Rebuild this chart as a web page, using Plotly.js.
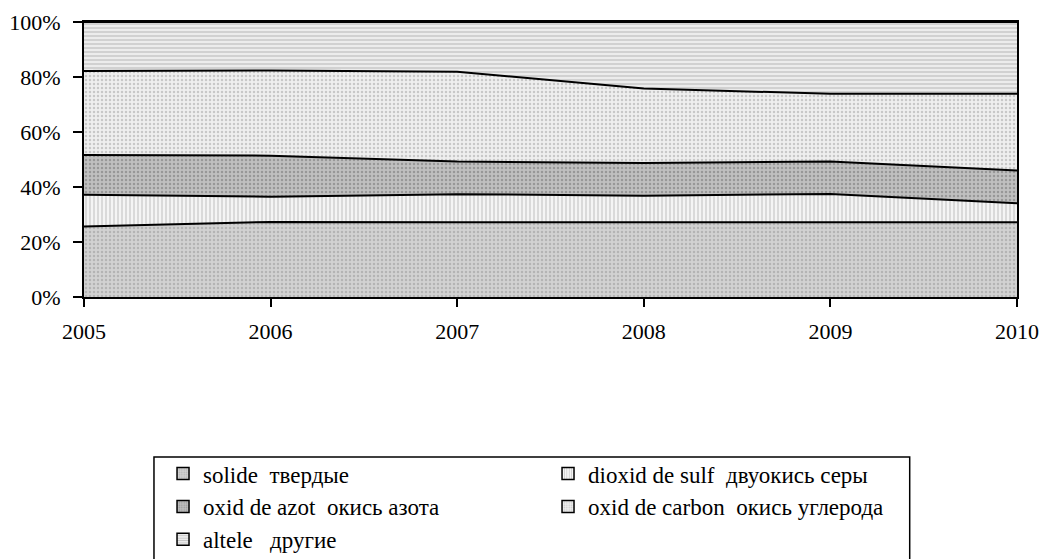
<!DOCTYPE html>
<html>
<head>
<meta charset="utf-8">
<script src="https://cdn.plot.ly/plotly-3.0.1.min.js"></script>
<style>html,body{margin:0;padding:0;background:#fff;}#chart{width:1042px;height:559px;}</style>
</head>
<body>
<div id="chart"></div>
<script>
const years = [2005, 2006, 2007, 2008, 2009, 2010];
const solide = [25.6, 27.3, 27.2, 27.2, 27.2, 27.2];
const dioxidSulf = [11.6, 9.2, 10.2, 9.6, 10.3, 6.9];
const oxidAzot = [14.4, 14.9, 11.9, 11.9, 11.8, 11.9];
const oxidCarbon = [30.6, 31.0, 32.6, 27.1, 24.6, 27.9];
const altele = [17.8, 17.6, 18.1, 24.2, 26.1, 26.1];
const names = ["solide  твердые", "dioxid de sulf  двуокись серы", "oxid de azot  окись азота", "oxid de carbon  окись углерода", "altele   другие"];
const yTicks = [0, 20, 40, 60, 80, 100];

const series = [solide, dioxidSulf, oxidAzot, oxidCarbon, altele];
const fills = [
  {bg: "#d2d2d2", fg: "#b4b4b4", shape: "."},
  {bg: "#f4f4f4", fg: "#c8c8c8", shape: "|"},
  {bg: "#c0c0c0", fg: "#989898", shape: "."},
  {bg: "#efefef", fg: "#c8c8c8", shape: "."},
  {bg: "#ececec", fg: "#c0c0c0", shape: "-"}
];
const FONT = "Liberation Serif";

const areaTraces = series.map((vals, i) => ({
  x: years,
  y: vals,
  name: names[i],
  type: "scatter",
  mode: "lines",
  stackgroup: "one",
  groupnorm: i === 0 ? "percent" : undefined,
  line: {color: "#000", width: 2, shape: "linear"},
  fillcolor: fills[i].bg,
  fillpattern: {shape: fills[i].shape, bgcolor: fills[i].bg, fgcolor: fills[i].fg, size: 4, solidity: 0.3},
  showlegend: false,
  hoverinfo: "x+y+name"
}));

// legend keys only (square swatches like the original); null size -> no bar drawn
const legendTraces = series.map((vals, i) => ({
  x: [years[0]],
  y: [null],
  name: names[i],
  type: "bar",
  marker: {
    color: fills[i].bg,
    pattern: {shape: fills[i].shape, bgcolor: fills[i].bg, fgcolor: fills[i].fg, size: 3, solidity: 0.3},
    line: {color: "#000", width: 1.5}
  },
  showlegend: true,
  hoverinfo: "skip"
}));

const layout = {
  width: 1042,
  height: 559,
  paper_bgcolor: "#fff",
  plot_bgcolor: "#fff",
  margin: {l: 84, r: 25, t: 22, b: 262, pad: 0, autoexpand: false},
  font: {family: FONT, color: "#000", size: 22},
  showlegend: true,
  xaxis: {
    range: [2005, 2010],
    tickvals: years,
    ticktext: years.map(String),
    showgrid: false,
    zeroline: false,
    showline: true,
    linecolor: "#000",
    linewidth: 2,
    mirror: true,
    ticks: "outside",
    ticklen: 8,
    tickwidth: 2,
    tickcolor: "#000",
    ticklabelstandoff: 6,
    tickfont: {family: FONT, size: 22}
  },
  yaxis: {
    range: [0, 100],
    tickvals: yTicks,
    ticktext: yTicks.map(v => v + "%"),
    showgrid: false,
    zeroline: false,
    showline: true,
    linecolor: "#000",
    linewidth: 2,
    mirror: true,
    ticks: "outside",
    ticklen: 9,
    tickwidth: 2,
    tickcolor: "#000",
    ticklabelstandoff: 8,
    tickfont: {family: FONT, size: 22}
  },
  legend: {
    orientation: "h",
    x: 0.0847,
    xanchor: "left",
    y: -0.564,
    yanchor: "top",
    entrywidth: 340,
    entrywidthmode: "pixels",
    traceorder: "normal",
    bgcolor: "rgba(0,0,0,0)",
    borderwidth: 0,
    itemwidth: 30,
    font: {family: FONT, size: 23, color: "#000"}
  },
  shapes: [{
    type: "rect", xref: "paper", yref: "paper",
    x0: 0.075, x1: 0.885, y0: -1.05, y1: -0.582,
    line: {color: "#000", width: 1.5}, fillcolor: "rgba(0,0,0,0)"
  }]
};

Plotly.newPlot("chart", areaTraces.concat(legendTraces), layout, {displayModeBar: false, staticPlot: true});
</script>
</body>
</html>
